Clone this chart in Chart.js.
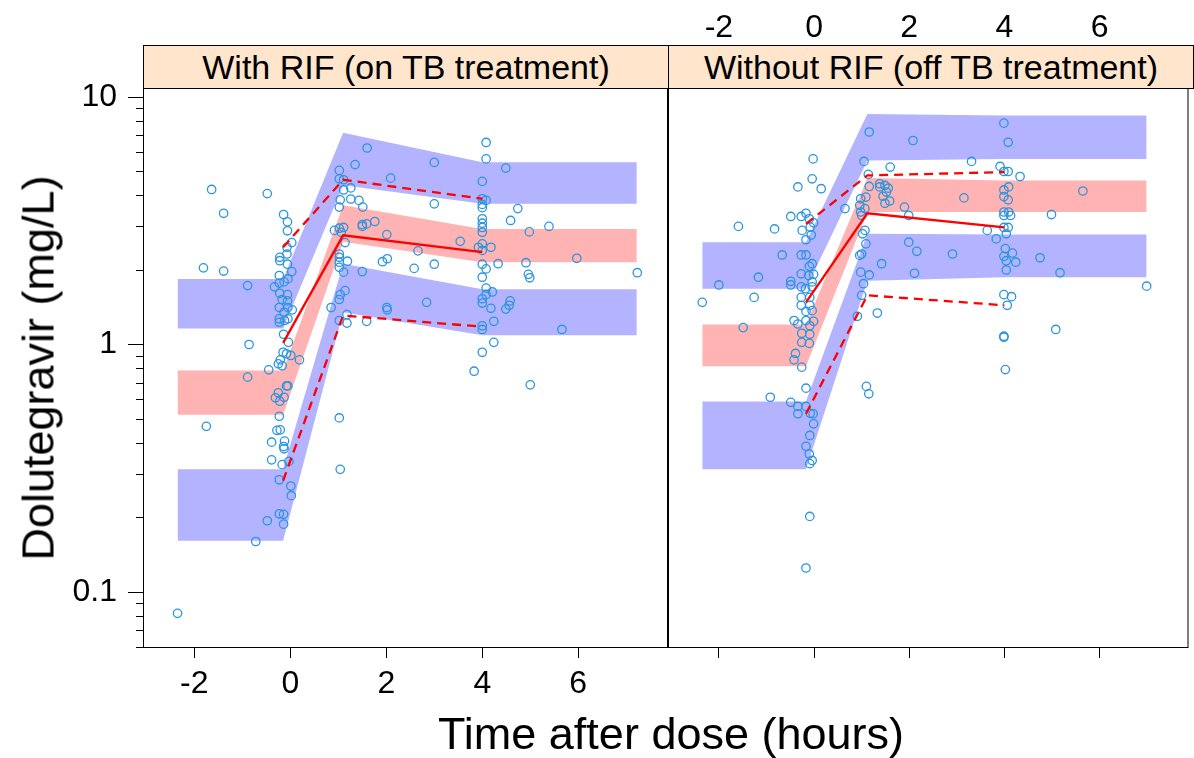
<!DOCTYPE html>
<html>
<head>
<meta charset="utf-8">
<script src="https://cdn.jsdelivr.net/npm/chart.js@4.4.1/dist/chart.umd.min.js"></script>
<style>
  html, body { margin: 0; padding: 0; background: #fff; overflow: hidden; }
  #wrap { position: relative; width: 1194px; height: 758px; font-family: "Liberation Sans", Arial, sans-serif; color: #000; }
  canvas { position: absolute; left: 0; top: 0; }
  .strip { position: absolute; top: 45px; height: 44px; box-sizing: border-box; background: #ffe5cc;
           border: 1px solid #000; font-size: 34px; line-height: 42px; text-align: center; white-space: nowrap; z-index: 2; }
  .title { position: absolute; font-size: 45px; line-height: 1; white-space: nowrap; z-index: 2; }
</style>
</head>
<body>
<div id="wrap">
  <canvas id="left" width="1194" height="758"></canvas>
  <canvas id="right" width="1194" height="758"></canvas>
  <div class="strip" style="left:143px; width:526px;">With RIF (on TB treatment)</div>
  <div class="strip" style="left:668px; width:526px;">Without RIF (off TB treatment)</div>
  <div class="title" style="left:38px; top:368px; transform: translate(-50%,-50%) rotate(-90deg);">Dolutegravir (mg/L)</div>
  <div class="title" style="left:671px; top:733px; transform: translate(-50%,-50%);">Time after dose (hours)</div>
</div>
<script>
// axes
const xMin = -3.07, xMax = 7.87;
const yMin = 0.0594, yMax = 10.87;
const xTicks = [-2, 0, 2, 4, 6];
const yMajor = [0.1, 1, 10];
const yTicks = [0.06, 0.07, 0.08, 0.09, 0.1, 0.2, 0.3, 0.4, 0.5, 0.6, 0.7, 0.8, 0.9,
                1, 2, 3, 4, 5, 6, 7, 8, 9, 10];

// observed concentrations, with RIF
const rifTime = [
  -1.64,-0.48,-1.39,-0.14,-0.06,-0.06,0.03,-0.07,-0.07,-0.22,-0.22,-0.06,0.03,-1.81,-1.39,-0.23,-0.89,-0.33,-0.23,-0.13,-0.05,-0.22,
  -0.06,-0.17,-0.06,0.04,-0.05,-0.23,-0.13,-0.23,-0.12,-0.05,-0.23,-0.14,-0.86,-0.04,-0.15,-0.08,0.01,0.19,-0.21,-0.25,-0.17,-0.45,
  -0.89,-0.08,-0.05,-0.25,-0.31,-0.22,-0.13,-0.23,-1.75,-0.28,-0.21,-0.39,-0.12,-0.14,-0.13,-0.39,-0.17,-0.03,-0.23,0.01,0.02,-0.23,
  -0.14,-0.14,-0.48,-0.72,-2.35,
  1.60,1.35,3.00,1.02,1.02,1.11,2.09,1.26,1.11,1.04,1.26,1.43,1.51,1.02,3.00,1.76,1.59,1.50,1.50,0.92,1.02,1.11,1.06,2.01,1.14,3.54,
  2.66,1.02,1.02,1.02,1.19,1.02,1.11,1.92,2.02,2.58,3.00,1.50,1.14,1.04,1.02,0.85,2.01,2.02,2.84,1.02,1.18,1.18,1.59,3.83,1.02,1.04,
  4.08,4.08,4.49,4.00,4.00,4.08,4.00,4.00,4.74,4.59,4.00,4.00,4.00,4.00,4.98,5.39,4.00,3.92,4.18,4.00,4.00,4.33,4.08,4.91,5.97,7.23,
  4.96,4.99,4.00,4.08,4.21,4.08,4.00,4.00,4.18,4.58,4.56,4.49,4.24,5.66,4.00,4.00,4.24,4.00,5.00
];
const rifConc = [
  4.23,4.07,3.39,3.35,3.13,2.88,2.58,2.47,2.32,2.25,2.18,2.11,1.97,2.04,1.98,1.90,1.73,1.71,1.77,1.79,1.84,1.61,
  1.59,1.52,1.50,1.38,1.41,1.41,1.35,1.27,1.25,1.27,1.23,1.10,1.00,1.02,0.93,0.917,0.903,0.867,0.867,0.835,0.82,0.79,
  0.738,0.68,0.68,0.638,0.609,0.59,0.612,0.513,0.467,0.45,0.452,0.403,0.407,0.387,0.379,0.342,0.327,0.337,0.284,0.268,0.245,0.207,
  0.206,0.188,0.194,0.16,0.082,
  6.22,5.33,5.44,5.05,4.67,4.63,4.70,4.29,4.21,3.84,3.87,3.82,3.59,3.59,3.70,3.14,3.07,3.00,3.05,2.89,2.95,2.97,2.84,2.78,2.58,2.61,
  2.39,2.32,2.25,2.15,2.17,2.05,1.96,2.16,2.22,2.03,2.11,1.97,1.65,1.59,1.52,1.41,1.41,1.38,1.48,1.25,1.22,1.32,1.24,0.78,0.505,0.313,
  6.55,5.62,5.16,4.56,3.88,3.82,3.68,3.57,3.54,3.17,3.22,3.09,2.97,2.84,2.85,3.00,2.55,2.47,2.47,2.40,2.11,2.12,2.02,2.14,2.23,1.95,
  1.92,1.86,1.87,1.69,1.63,1.59,1.53,1.47,1.40,1.50,1.44,1.39,1.24,1.15,1.19,1.15,1.02,0.93,0.687
];

// observed concentrations, without RIF
const noRifTime = [
  -0.02,-0.04,-0.34,0.15,0.65,-0.49,-0.27,-0.17,-0.10,-0.01,-0.08,-1.59,-0.83,-0.25,-0.06,-0.17,-0.67,-0.27,-0.17,-0.04,-0.10,-1.17,
  -2.00,-0.49,-0.49,-0.27,-0.11,-0.01,-0.04,-0.27,-0.18,-0.04,-1.26,-2.35,-0.27,-0.09,-0.27,-0.09,-0.04,-0.17,-0.42,-0.34,-0.17,-0.01,
  -0.09,-1.49,-0.26,-0.09,-0.26,-0.10,-0.39,-0.42,-0.26,
  -0.17,-0.92,-0.49,-0.34,-0.17,-0.34,-0.08,-0.02,-0.01,-0.09,-0.17,-0.10,-0.04,-0.09,-0.09,-0.17,
  1.16,2.08,1.05,1.60,3.31,1.14,1.16,1.38,1.38,1.49,1.56,1.52,1.45,1.59,1.49,0.98,1.09,0.96,0.98,1.07,1.00,3.15,
  1.90,1.99,1.07,1.02,1.09,3.64,3.83,1.99,2.16,2.91,1.00,0.96,1.42,2.11,0.98,1.16,1.04,1.00,1.33,0.91,1.10,1.15,
  3.99,4.08,3.91,3.99,4.08,4.33,3.99,4.09,3.99,4.08,5.65,3.99,4.09,3.99,4.13,4.99,3.99,4.08,4.04,4.02,4.17,3.99,
  4.04,4.24,4.04,4.75,5.17,6.99,3.99,4.15,4.06,5.08,3.99,3.99,4.02
];
const noRifConc = [
  5.62,4.67,4.33,4.26,3.54,3.29,3.29,3.39,3.22,3.10,2.98,3.00,2.93,2.89,2.77,2.65,2.30,2.30,2.30,2.12,2.07,1.87,
  1.74,1.80,1.74,1.93,1.90,1.92,1.79,1.71,1.68,1.71,1.55,1.48,1.55,1.55,1.44,1.44,1.37,1.36,1.25,1.21,1.25,1.24,
  1.19,1.17,1.11,1.10,1.02,1.01,0.92,0.867,0.81,
  0.666,0.612,0.584,0.562,0.562,0.525,0.527,0.525,0.478,0.429,0.388,0.361,0.340,0.330,0.202,0.125,
  7.22,6.67,5.49,5.21,5.49,4.87,4.35,4.46,4.33,4.39,4.28,4.13,3.97,3.80,3.72,3.88,3.94,3.65,3.43,3.54,3.32,3.91,
  3.59,3.32,2.89,2.80,2.55,2.89,2.67,2.59,2.38,2.32,2.32,2.29,2.12,1.94,1.96,1.91,1.76,1.58,1.34,1.30,0.677,0.632,
  7.84,6.56,5.24,5.00,5.00,4.77,4.21,4.33,3.96,3.84,4.17,3.43,3.43,3.32,3.32,3.35,2.97,2.97,2.80,2.44,2.34,2.27,
  2.18,2.15,2.00,2.24,1.95,1.72,1.59,1.56,1.44,1.15,1.07,1.08,0.792
];

// simulated prediction intervals (bands), with RIF
const rifBinX  = [-2.35, -0.15, 1.1, 4.0, 7.22];
const rifP95Hi = [1.84, 1.84, 7.17, 5.45, 5.45];
const rifP95Lo = [1.16, 1.16, 4.4, 3.70, 3.70];
const rifP50Hi = [0.785, 0.785, 3.65, 2.93, 2.93];
const rifP50Lo = [0.52, 0.52, 2.6, 2.15, 2.15];
const rifP05Hi = [0.313, 0.313, 2.12, 1.67, 1.67];
const rifP05Lo = [0.161, 0.161, 1.35, 1.09, 1.09];
// observed percentiles, with RIF
const rifObsX  = [-0.15, 1.1, 4.0];
const rifObs95 = [2.47, 4.63, 3.88];
const rifObs50 = [1.015, 2.76, 2.36];
const rifObs05 = [0.282, 1.31, 1.18];

// bands, without RIF
const noBinX  = [-2.35, -0.17, 1.12, 4.0, 6.99];
const noP95Hi = [2.59, 2.59, 8.54, 8.41, 8.41];
const noP95Lo = [1.68, 1.68, 5.54, 5.62, 5.62];
const noP50Hi = [1.205, 1.205, 4.71, 4.60, 4.60];
const noP50Lo = [0.817, 0.817, 3.43, 3.43, 3.43];
const noP05Hi = [0.588, 0.588, 2.80, 2.78, 2.78];
const noP05Lo = [0.313, 0.313, 1.81, 1.87, 1.87];
const noObsX  = [-0.17, 1.12, 4.0];
const noObs95 = [3.07, 4.82, 4.97];
const noObs50 = [1.48, 3.39, 2.97];
const noObs05 = [0.525, 1.58, 1.44];

const blueBand = '#b3b3ff';
const pinkBand = '#ffb3b3';
const pointCol = '#2a95e0';
const lineCol = '#ff0000';
const fontFamily = '"Liberation Sans", Arial, sans-serif';

function pts(xs, ys) {
  return xs.map((x, i) => ({ x: x, y: ys[i] }));
}

function band(xs, hi, lo, color) {
  const edge = { borderColor: 'rgba(0,0,0,0)', borderWidth: 0, pointRadius: 0, order: 3 };
  return [
    Object.assign({ data: pts(xs, hi), fill: '+1', backgroundColor: color }, edge),
    Object.assign({ data: pts(xs, lo), fill: false }, edge)
  ];
}

function obsLine(xs, ys, dashed) {
  return { data: pts(xs, ys), borderColor: lineCol, borderWidth: 2.3, borderDash: dashed ? [9, 6] : [],
           pointRadius: 0, fill: false, order: 1 };
}

// panel frame
const frame = {
  id: 'frame',
  afterDatasetsDraw(chart) {
    const a = chart.chartArea, ctx = chart.ctx;
    ctx.save();
    ctx.strokeStyle = '#000';
    ctx.lineWidth = 1;
    ctx.strokeRect(a.left + 0.5, a.top + 0.5, a.right - a.left - 1, a.bottom - a.top - 1);
    ctx.restore();
  }
};

// log axis tick marks, long for decades
const logTicks = {
  id: 'logTicks',
  afterDraw(chart, args, opts) {
    if (!opts.show) return;
    const y = chart.scales.y, left = chart.chartArea.left, ctx = chart.ctx;
    ctx.save();
    ctx.strokeStyle = '#000';
    ctx.lineWidth = 1;
    ctx.beginPath();
    y.ticks.forEach(t => {
      const py = Math.round(y.getPixelForValue(t.value)) + 0.5;
      const len = yMajor.includes(t.value) ? 15 : 7;
      ctx.moveTo(left - len, py);
      ctx.lineTo(left, py);
    });
    ctx.stroke();
    ctx.restore();
  }
};

function makePanel(id, p, isLeft) {
  const datasets = [].concat(
    band(p.binX, p.p95Hi, p.p95Lo, blueBand),
    band(p.binX, p.p50Hi, p.p50Lo, pinkBand),
    band(p.binX, p.p05Hi, p.p05Lo, blueBand),
    [{ data: pts(p.time, p.conc), showLine: false, pointStyle: 'circle', pointRadius: 4.2,
       pointBorderWidth: 1.3, pointBorderColor: pointCol, pointBackgroundColor: 'rgba(0,0,0,0)', order: 2 }],
    [obsLine(p.obsX, p.obs95, true), obsLine(p.obsX, p.obs50, false), obsLine(p.obsX, p.obs05, true)]
  );

  const tickFont = { size: 32, family: fontFamily };
  const setXTicks = ax => { ax.ticks = xTicks.map(v => ({ value: v })); };

  const scales = {
    x: {
      type: 'linear', position: 'bottom', min: xMin, max: xMax,
      afterBuildTicks: setXTicks,
      afterFit: ax => { ax.height = 110; },
      grid: { display: true, drawOnChartArea: false, drawTicks: true, tickLength: 10, tickColor: '#000', tickWidth: 1 },
      border: { display: false },
      ticks: { display: isLeft, font: tickFont, color: '#000', padding: 7, maxRotation: 0, autoSkip: false }
    },
    y: {
      type: 'logarithmic', position: 'left', min: yMin, max: yMax, display: isLeft,
      afterBuildTicks: ax => { ax.ticks = yTicks.map(v => ({ value: v })); },
      afterFit: ax => { ax.width = isLeft ? 143 : 0; },
      grid: { display: false, drawTicks: false },
      border: { display: false },
      ticks: { font: tickFont, color: '#000', padding: 26, autoSkip: false,
               callback: v => (yMajor.includes(v) ? String(v) : '') }
    }
  };
  if (!isLeft) {
    scales.x2 = {
      type: 'linear', position: 'top', min: xMin, max: xMax,
      afterBuildTicks: setXTicks,
      afterFit: ax => { ax.height = 88; },
      grid: { display: false, drawTicks: false },
      border: { display: false },
      ticks: { font: tickFont, color: '#000', padding: 41, maxRotation: 0, autoSkip: false }
    };
  }

  return new Chart(document.getElementById(id), {
    type: 'line',
    data: { datasets: datasets },
    options: {
      responsive: false,
      animation: false,
      devicePixelRatio: 1,
      layout: { padding: isLeft ? { left: 0, right: 526, top: 88, bottom: 0 } : { left: 668, right: 0, top: 0, bottom: 0 } },
      elements: { line: { tension: 0 } },
      plugins: { legend: { display: false }, tooltip: { enabled: false }, logTicks: { show: isLeft } },
      scales: scales
    },
    plugins: [frame, logTicks]
  });
}

makePanel('left', {
  time: rifTime, conc: rifConc, binX: rifBinX,
  p95Hi: rifP95Hi, p95Lo: rifP95Lo, p50Hi: rifP50Hi, p50Lo: rifP50Lo, p05Hi: rifP05Hi, p05Lo: rifP05Lo,
  obsX: rifObsX, obs95: rifObs95, obs50: rifObs50, obs05: rifObs05
}, true);

makePanel('right', {
  time: noRifTime, conc: noRifConc, binX: noBinX,
  p95Hi: noP95Hi, p95Lo: noP95Lo, p50Hi: noP50Hi, p50Lo: noP50Lo, p05Hi: noP05Hi, p05Lo: noP05Lo,
  obsX: noObsX, obs95: noObs95, obs50: noObs50, obs05: noObs05
}, false);
</script>
</body>
</html>
